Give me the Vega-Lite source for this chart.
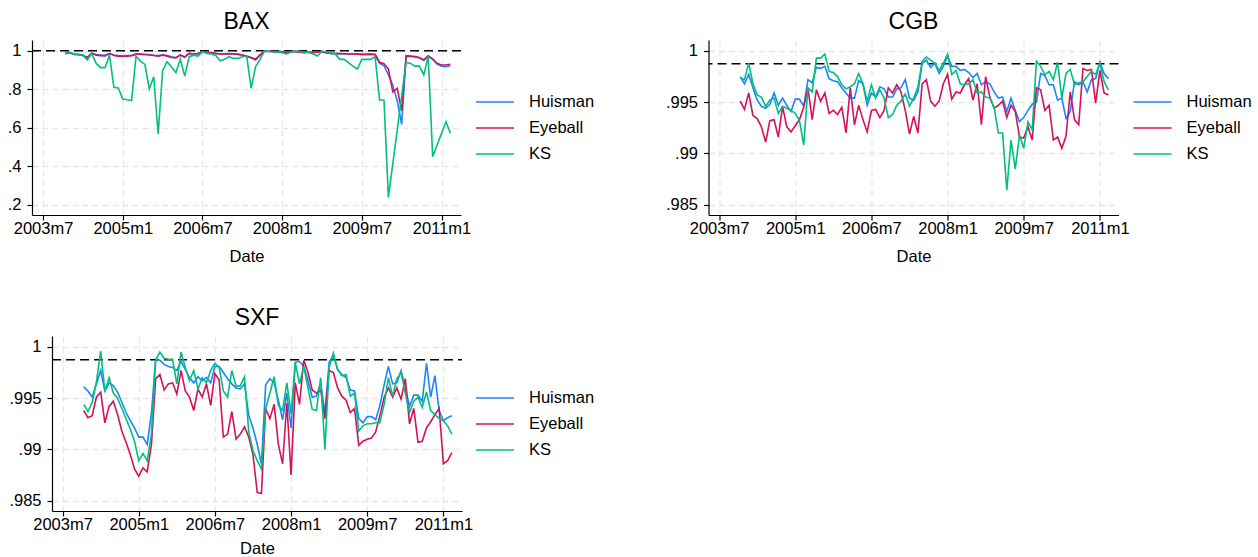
{
"$schema":"https://vega.github.io/schema/vega-lite/v6.json",
"background":"white",
"padding":{"left":7,"top":11,"right":0,"bottom":0},
"config":{
 "view":{"stroke":null},
 "font":"Liberation Sans",
 "title":{"font":"Liberation Sans","fontSize":23,"fontWeight":"normal","color":"#000","offset":6,"baseline":"alphabetic","anchor":"middle"},
 "axis":{"domainColor":"#000","domainWidth":1.2,"tickColor":"#000","tickSize":5,"tickWidth":1.2,"labelFont":"Liberation Sans","labelFontSize":16.5,"labelColor":"#000","titleFont":"Liberation Sans","titleFontSize":16.5,"titleFontWeight":"normal","titleColor":"#000","gridColor":"#e6e6e6","gridDash":[6,4],"gridWidth":1.3},
 "axisX":{"labelPadding":0,"titlePadding":12,"labelFlush":false,"labelOverlap":false},
 "axisY":{"labelPadding":6},
 "legend":{"title":null,"orient":"none","symbolType":"stroke","symbolSize":1444,"symbolStrokeWidth":1.6,"labelFont":"Liberation Sans","labelFontSize":16.5,"labelColor":"#000","labelOffset":14,"rowPadding":2,"clipHeight":24,"padding":0}
},
"datasets":{
"bax":[
{"t":527,"s":"Huisman","v":0.985},{"t":528,"s":"Huisman","v":0.990},{"t":529,"s":"Huisman","v":0.982},{"t":530,"s":"Huisman","v":0.981},{"t":531,"s":"Huisman","v":0.978},{"t":532,"s":"Huisman","v":0.962},{"t":533,"s":"Huisman","v":0.986},{"t":534,"s":"Huisman","v":0.980},{"t":535,"s":"Huisman","v":0.978},{"t":536,"s":"Huisman","v":0.976},{"t":537,"s":"Huisman","v":0.985},{"t":538,"s":"Huisman","v":0.978},{"t":539,"s":"Huisman","v":0.975},{"t":540,"s":"Huisman","v":0.973},{"t":541,"s":"Huisman","v":0.975},{"t":542,"s":"Huisman","v":0.975},{"t":543,"s":"Huisman","v":0.982},{"t":544,"s":"Huisman","v":0.982},{"t":545,"s":"Huisman","v":0.980},{"t":546,"s":"Huisman","v":0.980},{"t":547,"s":"Huisman","v":0.976},{"t":548,"s":"Huisman","v":0.975},{"t":549,"s":"Huisman","v":0.978},{"t":550,"s":"Huisman","v":0.975},{"t":551,"s":"Huisman","v":0.968},{"t":552,"s":"Huisman","v":0.965},{"t":553,"s":"Huisman","v":0.976},{"t":554,"s":"Huisman","v":0.968},{"t":555,"s":"Huisman","v":0.985},{"t":556,"s":"Huisman","v":0.983},{"t":557,"s":"Huisman","v":0.985},{"t":558,"s":"Huisman","v":0.995},{"t":559,"s":"Huisman","v":0.992},{"t":560,"s":"Huisman","v":0.990},{"t":561,"s":"Huisman","v":0.987},{"t":562,"s":"Huisman","v":0.984},{"t":563,"s":"Huisman","v":0.984},{"t":564,"s":"Huisman","v":0.985},{"t":565,"s":"Huisman","v":0.984},{"t":566,"s":"Huisman","v":0.982},{"t":567,"s":"Huisman","v":0.978},{"t":568,"s":"Huisman","v":0.970},{"t":569,"s":"Huisman","v":0.962},{"t":570,"s":"Huisman","v":0.952},{"t":571,"s":"Huisman","v":0.975},{"t":572,"s":"Huisman","v":0.998},{"t":573,"s":"Huisman","v":0.997},{"t":574,"s":"Huisman","v":0.996},{"t":575,"s":"Huisman","v":0.995},{"t":576,"s":"Huisman","v":0.995},{"t":577,"s":"Huisman","v":0.992},{"t":578,"s":"Huisman","v":0.996},{"t":579,"s":"Huisman","v":0.995},{"t":580,"s":"Huisman","v":0.993},{"t":581,"s":"Huisman","v":0.990},{"t":582,"s":"Huisman","v":0.993},{"t":583,"s":"Huisman","v":0.991},{"t":584,"s":"Huisman","v":0.995},{"t":585,"s":"Huisman","v":0.993},{"t":586,"s":"Huisman","v":0.990},{"t":587,"s":"Huisman","v":0.986},{"t":588,"s":"Huisman","v":0.985},{"t":589,"s":"Huisman","v":0.985},{"t":590,"s":"Huisman","v":0.984},{"t":591,"s":"Huisman","v":0.983},{"t":592,"s":"Huisman","v":0.983},{"t":593,"s":"Huisman","v":0.982},{"t":594,"s":"Huisman","v":0.981},{"t":595,"s":"Huisman","v":0.981},{"t":596,"s":"Huisman","v":0.982},{"t":597,"s":"Huisman","v":0.980},{"t":598,"s":"Huisman","v":0.935},{"t":599,"s":"Huisman","v":0.922},{"t":600,"s":"Huisman","v":0.875},{"t":601,"s":"Huisman","v":0.820},{"t":602,"s":"Huisman","v":0.740},{"t":603,"s":"Huisman","v":0.617},{"t":604,"s":"Huisman","v":0.972},{"t":605,"s":"Huisman","v":0.970},{"t":606,"s":"Huisman","v":0.968},{"t":607,"s":"Huisman","v":0.962},{"t":608,"s":"Huisman","v":0.950},{"t":609,"s":"Huisman","v":0.972},{"t":610,"s":"Huisman","v":0.955},{"t":611,"s":"Huisman","v":0.930},{"t":612,"s":"Huisman","v":0.920},{"t":613,"s":"Huisman","v":0.917},{"t":614,"s":"Huisman","v":0.922},
{"t":527,"s":"Eyeball","v":0.985},{"t":528,"s":"Eyeball","v":0.990},{"t":529,"s":"Eyeball","v":0.980},{"t":530,"s":"Eyeball","v":0.979},{"t":531,"s":"Eyeball","v":0.975},{"t":532,"s":"Eyeball","v":0.965},{"t":533,"s":"Eyeball","v":0.988},{"t":534,"s":"Eyeball","v":0.977},{"t":535,"s":"Eyeball","v":0.974},{"t":536,"s":"Eyeball","v":0.973},{"t":537,"s":"Eyeball","v":0.986},{"t":538,"s":"Eyeball","v":0.975},{"t":539,"s":"Eyeball","v":0.972},{"t":540,"s":"Eyeball","v":0.970},{"t":541,"s":"Eyeball","v":0.972},{"t":542,"s":"Eyeball","v":0.974},{"t":543,"s":"Eyeball","v":0.983},{"t":544,"s":"Eyeball","v":0.982},{"t":545,"s":"Eyeball","v":0.980},{"t":546,"s":"Eyeball","v":0.978},{"t":547,"s":"Eyeball","v":0.975},{"t":548,"s":"Eyeball","v":0.972},{"t":549,"s":"Eyeball","v":0.977},{"t":550,"s":"Eyeball","v":0.973},{"t":551,"s":"Eyeball","v":0.965},{"t":552,"s":"Eyeball","v":0.962},{"t":553,"s":"Eyeball","v":0.978},{"t":554,"s":"Eyeball","v":0.966},{"t":555,"s":"Eyeball","v":0.987},{"t":556,"s":"Eyeball","v":0.983},{"t":557,"s":"Eyeball","v":0.985},{"t":558,"s":"Eyeball","v":0.995},{"t":559,"s":"Eyeball","v":0.990},{"t":560,"s":"Eyeball","v":0.990},{"t":561,"s":"Eyeball","v":0.985},{"t":562,"s":"Eyeball","v":0.983},{"t":563,"s":"Eyeball","v":0.983},{"t":564,"s":"Eyeball","v":0.984},{"t":565,"s":"Eyeball","v":0.983},{"t":566,"s":"Eyeball","v":0.981},{"t":567,"s":"Eyeball","v":0.978},{"t":568,"s":"Eyeball","v":0.972},{"t":569,"s":"Eyeball","v":0.965},{"t":570,"s":"Eyeball","v":0.956},{"t":571,"s":"Eyeball","v":0.978},{"t":572,"s":"Eyeball","v":0.998},{"t":573,"s":"Eyeball","v":0.996},{"t":574,"s":"Eyeball","v":0.995},{"t":575,"s":"Eyeball","v":0.995},{"t":576,"s":"Eyeball","v":0.994},{"t":577,"s":"Eyeball","v":0.991},{"t":578,"s":"Eyeball","v":0.996},{"t":579,"s":"Eyeball","v":0.995},{"t":580,"s":"Eyeball","v":0.993},{"t":581,"s":"Eyeball","v":0.990},{"t":582,"s":"Eyeball","v":0.993},{"t":583,"s":"Eyeball","v":0.990},{"t":584,"s":"Eyeball","v":0.994},{"t":585,"s":"Eyeball","v":0.993},{"t":586,"s":"Eyeball","v":0.990},{"t":587,"s":"Eyeball","v":0.986},{"t":588,"s":"Eyeball","v":0.985},{"t":589,"s":"Eyeball","v":0.985},{"t":590,"s":"Eyeball","v":0.984},{"t":591,"s":"Eyeball","v":0.983},{"t":592,"s":"Eyeball","v":0.983},{"t":593,"s":"Eyeball","v":0.982},{"t":594,"s":"Eyeball","v":0.981},{"t":595,"s":"Eyeball","v":0.981},{"t":596,"s":"Eyeball","v":0.982},{"t":597,"s":"Eyeball","v":0.980},{"t":598,"s":"Eyeball","v":0.940},{"t":599,"s":"Eyeball","v":0.932},{"t":600,"s":"Eyeball","v":0.905},{"t":601,"s":"Eyeball","v":0.785},{"t":602,"s":"Eyeball","v":0.805},{"t":603,"s":"Eyeball","v":0.688},{"t":604,"s":"Eyeball","v":0.974},{"t":605,"s":"Eyeball","v":0.972},{"t":606,"s":"Eyeball","v":0.970},{"t":607,"s":"Eyeball","v":0.965},{"t":608,"s":"Eyeball","v":0.952},{"t":609,"s":"Eyeball","v":0.974},{"t":610,"s":"Eyeball","v":0.958},{"t":611,"s":"Eyeball","v":0.935},{"t":612,"s":"Eyeball","v":0.926},{"t":613,"s":"Eyeball","v":0.926},{"t":614,"s":"Eyeball","v":0.929},
{"t":527,"s":"KS","v":0.983},{"t":528,"s":"KS","v":0.993},{"t":529,"s":"KS","v":0.983},{"t":530,"s":"KS","v":0.981},{"t":531,"s":"KS","v":0.976},{"t":532,"s":"KS","v":0.952},{"t":533,"s":"KS","v":0.986},{"t":534,"s":"KS","v":0.934},{"t":535,"s":"KS","v":0.912},{"t":536,"s":"KS","v":0.912},{"t":537,"s":"KS","v":0.977},{"t":538,"s":"KS","v":0.810},{"t":539,"s":"KS","v":0.806},{"t":540,"s":"KS","v":0.749},{"t":541,"s":"KS","v":0.745},{"t":542,"s":"KS","v":0.742},{"t":543,"s":"KS","v":0.972},{"t":544,"s":"KS","v":0.946},{"t":545,"s":"KS","v":0.929},{"t":546,"s":"KS","v":0.801},{"t":547,"s":"KS","v":0.865},{"t":548,"s":"KS","v":0.567},{"t":549,"s":"KS","v":0.896},{"t":550,"s":"KS","v":0.943},{"t":551,"s":"KS","v":0.917},{"t":552,"s":"KS","v":0.887},{"t":553,"s":"KS","v":0.955},{"t":554,"s":"KS","v":0.868},{"t":555,"s":"KS","v":0.969},{"t":556,"s":"KS","v":0.977},{"t":557,"s":"KS","v":0.972},{"t":558,"s":"KS","v":0.995},{"t":559,"s":"KS","v":0.986},{"t":560,"s":"KS","v":0.983},{"t":561,"s":"KS","v":0.975},{"t":562,"s":"KS","v":0.948},{"t":563,"s":"KS","v":0.955},{"t":564,"s":"KS","v":0.969},{"t":565,"s":"KS","v":0.960},{"t":566,"s":"KS","v":0.960},{"t":567,"s":"KS","v":0.969},{"t":568,"s":"KS","v":0.972},{"t":569,"s":"KS","v":0.804},{"t":570,"s":"KS","v":0.917},{"t":571,"s":"KS","v":0.955},{"t":572,"s":"KS","v":0.998},{"t":573,"s":"KS","v":0.997},{"t":574,"s":"KS","v":0.993},{"t":575,"s":"KS","v":0.993},{"t":576,"s":"KS","v":0.990},{"t":577,"s":"KS","v":0.983},{"t":578,"s":"KS","v":0.993},{"t":579,"s":"KS","v":0.998},{"t":580,"s":"KS","v":0.997},{"t":581,"s":"KS","v":0.993},{"t":582,"s":"KS","v":0.990},{"t":583,"s":"KS","v":0.983},{"t":584,"s":"KS","v":0.972},{"t":585,"s":"KS","v":0.998},{"t":586,"s":"KS","v":0.993},{"t":587,"s":"KS","v":0.990},{"t":588,"s":"KS","v":0.983},{"t":589,"s":"KS","v":0.955},{"t":590,"s":"KS","v":0.955},{"t":591,"s":"KS","v":0.938},{"t":592,"s":"KS","v":0.920},{"t":593,"s":"KS","v":0.905},{"t":594,"s":"KS","v":0.955},{"t":595,"s":"KS","v":0.955},{"t":596,"s":"KS","v":0.955},{"t":597,"s":"KS","v":0.969},{"t":598,"s":"KS","v":0.744},{"t":599,"s":"KS","v":0.744},{"t":600,"s":"KS","v":0.238},{"t":604,"s":"KS","v":0.939},{"t":605,"s":"KS","v":0.934},{"t":606,"s":"KS","v":0.920},{"t":607,"s":"KS","v":0.920},{"t":608,"s":"KS","v":0.874},{"t":609,"s":"KS","v":0.972},{"t":610,"s":"KS","v":0.449},{"t":613,"s":"KS","v":0.631},{"t":614,"s":"KS","v":0.571}
],
"cgb":[
{"t":527,"s":"Huisman","v":0.9975},{"t":528,"s":"Huisman","v":0.9968},{"t":529,"s":"Huisman","v":0.9977},{"t":530,"s":"Huisman","v":0.9964},{"t":531,"s":"Huisman","v":0.9952},{"t":532,"s":"Huisman","v":0.9946},{"t":533,"s":"Huisman","v":0.9944},{"t":534,"s":"Huisman","v":0.9948},{"t":535,"s":"Huisman","v":0.9959},{"t":536,"s":"Huisman","v":0.9947},{"t":537,"s":"Huisman","v":0.9954},{"t":538,"s":"Huisman","v":0.9947},{"t":539,"s":"Huisman","v":0.9941},{"t":540,"s":"Huisman","v":0.9953},{"t":541,"s":"Huisman","v":0.9953},{"t":542,"s":"Huisman","v":0.9946},{"t":543,"s":"Huisman","v":0.9972},{"t":544,"s":"Huisman","v":0.9969},{"t":545,"s":"Huisman","v":0.9984},{"t":546,"s":"Huisman","v":0.9983},{"t":547,"s":"Huisman","v":0.9985},{"t":548,"s":"Huisman","v":0.9973},{"t":549,"s":"Huisman","v":0.9971},{"t":550,"s":"Huisman","v":0.9970},{"t":551,"s":"Huisman","v":0.9964},{"t":552,"s":"Huisman","v":0.9959},{"t":553,"s":"Huisman","v":0.9954},{"t":554,"s":"Huisman","v":0.9954},{"t":555,"s":"Huisman","v":0.9971},{"t":556,"s":"Huisman","v":0.9968},{"t":557,"s":"Huisman","v":0.9947},{"t":558,"s":"Huisman","v":0.9959},{"t":559,"s":"Huisman","v":0.9955},{"t":560,"s":"Huisman","v":0.9965},{"t":561,"s":"Huisman","v":0.9963},{"t":562,"s":"Huisman","v":0.9955},{"t":563,"s":"Huisman","v":0.9955},{"t":564,"s":"Huisman","v":0.9963},{"t":565,"s":"Huisman","v":0.9964},{"t":566,"s":"Huisman","v":0.9972},{"t":567,"s":"Huisman","v":0.9954},{"t":568,"s":"Huisman","v":0.9952},{"t":569,"s":"Huisman","v":0.9960},{"t":570,"s":"Huisman","v":0.9988},{"t":571,"s":"Huisman","v":0.9991},{"t":572,"s":"Huisman","v":0.9984},{"t":573,"s":"Huisman","v":0.9988},{"t":574,"s":"Huisman","v":0.9978},{"t":575,"s":"Huisman","v":0.9985},{"t":576,"s":"Huisman","v":0.9995},{"t":577,"s":"Huisman","v":0.9985},{"t":578,"s":"Huisman","v":0.9985},{"t":579,"s":"Huisman","v":0.9981},{"t":580,"s":"Huisman","v":0.9982},{"t":581,"s":"Huisman","v":0.9979},{"t":582,"s":"Huisman","v":0.9974},{"t":583,"s":"Huisman","v":0.9978},{"t":584,"s":"Huisman","v":0.9967},{"t":585,"s":"Huisman","v":0.9970},{"t":586,"s":"Huisman","v":0.9968},{"t":587,"s":"Huisman","v":0.9960},{"t":588,"s":"Huisman","v":0.9954},{"t":589,"s":"Huisman","v":0.9955},{"t":590,"s":"Huisman","v":0.9941},{"t":591,"s":"Huisman","v":0.9954},{"t":592,"s":"Huisman","v":0.9942},{"t":593,"s":"Huisman","v":0.9931},{"t":594,"s":"Huisman","v":0.9935},{"t":595,"s":"Huisman","v":0.9942},{"t":596,"s":"Huisman","v":0.9948},{"t":597,"s":"Huisman","v":0.9950},{"t":598,"s":"Huisman","v":0.9978},{"t":599,"s":"Huisman","v":0.9976},{"t":600,"s":"Huisman","v":0.9967},{"t":601,"s":"Huisman","v":0.9967},{"t":602,"s":"Huisman","v":0.9952},{"t":603,"s":"Huisman","v":0.9954},{"t":604,"s":"Huisman","v":0.9934},{"t":605,"s":"Huisman","v":0.9941},{"t":606,"s":"Huisman","v":0.9970},{"t":607,"s":"Huisman","v":0.9967},{"t":608,"s":"Huisman","v":0.9970},{"t":609,"s":"Huisman","v":0.9960},{"t":610,"s":"Huisman","v":0.9972},{"t":611,"s":"Huisman","v":0.9973},{"t":612,"s":"Huisman","v":0.9989},{"t":613,"s":"Huisman","v":0.9978},{"t":614,"s":"Huisman","v":0.9973},
{"t":527,"s":"Eyeball","v":0.9951},{"t":528,"s":"Eyeball","v":0.9943},{"t":529,"s":"Eyeball","v":0.9959},{"t":530,"s":"Eyeball","v":0.9937},{"t":531,"s":"Eyeball","v":0.9934},{"t":532,"s":"Eyeball","v":0.9926},{"t":533,"s":"Eyeball","v":0.9911},{"t":534,"s":"Eyeball","v":0.9932},{"t":535,"s":"Eyeball","v":0.9933},{"t":536,"s":"Eyeball","v":0.9916},{"t":537,"s":"Eyeball","v":0.9946},{"t":538,"s":"Eyeball","v":0.9926},{"t":539,"s":"Eyeball","v":0.9921},{"t":540,"s":"Eyeball","v":0.9927},{"t":541,"s":"Eyeball","v":0.9933},{"t":542,"s":"Eyeball","v":0.9945},{"t":543,"s":"Eyeball","v":0.9964},{"t":544,"s":"Eyeball","v":0.9933},{"t":545,"s":"Eyeball","v":0.9962},{"t":546,"s":"Eyeball","v":0.9951},{"t":547,"s":"Eyeball","v":0.9959},{"t":548,"s":"Eyeball","v":0.9939},{"t":549,"s":"Eyeball","v":0.9942},{"t":550,"s":"Eyeball","v":0.9938},{"t":551,"s":"Eyeball","v":0.9945},{"t":552,"s":"Eyeball","v":0.9920},{"t":553,"s":"Eyeball","v":0.9964},{"t":554,"s":"Eyeball","v":0.9928},{"t":555,"s":"Eyeball","v":0.9947},{"t":556,"s":"Eyeball","v":0.9933},{"t":557,"s":"Eyeball","v":0.9921},{"t":558,"s":"Eyeball","v":0.9942},{"t":559,"s":"Eyeball","v":0.9943},{"t":560,"s":"Eyeball","v":0.9935},{"t":561,"s":"Eyeball","v":0.9942},{"t":562,"s":"Eyeball","v":0.9964},{"t":563,"s":"Eyeball","v":0.9959},{"t":564,"s":"Eyeball","v":0.9967},{"t":565,"s":"Eyeball","v":0.9960},{"t":566,"s":"Eyeball","v":0.9942},{"t":567,"s":"Eyeball","v":0.9919},{"t":568,"s":"Eyeball","v":0.9936},{"t":569,"s":"Eyeball","v":0.9920},{"t":570,"s":"Eyeball","v":0.9968},{"t":571,"s":"Eyeball","v":0.9972},{"t":572,"s":"Eyeball","v":0.9951},{"t":573,"s":"Eyeball","v":0.9946},{"t":574,"s":"Eyeball","v":0.9951},{"t":575,"s":"Eyeball","v":0.9968},{"t":576,"s":"Eyeball","v":0.9977},{"t":577,"s":"Eyeball","v":0.9953},{"t":578,"s":"Eyeball","v":0.9960},{"t":579,"s":"Eyeball","v":0.9959},{"t":580,"s":"Eyeball","v":0.9967},{"t":581,"s":"Eyeball","v":0.9973},{"t":582,"s":"Eyeball","v":0.9952},{"t":583,"s":"Eyeball","v":0.9968},{"t":584,"s":"Eyeball","v":0.9928},{"t":585,"s":"Eyeball","v":0.9975},{"t":586,"s":"Eyeball","v":0.9955},{"t":587,"s":"Eyeball","v":0.9944},{"t":588,"s":"Eyeball","v":0.9947},{"t":589,"s":"Eyeball","v":0.9951},{"t":590,"s":"Eyeball","v":0.9935},{"t":591,"s":"Eyeball","v":0.9947},{"t":592,"s":"Eyeball","v":0.9941},{"t":593,"s":"Eyeball","v":0.9916},{"t":594,"s":"Eyeball","v":0.9915},{"t":595,"s":"Eyeball","v":0.9926},{"t":596,"s":"Eyeball","v":0.9913},{"t":597,"s":"Eyeball","v":0.9964},{"t":598,"s":"Eyeball","v":0.9962},{"t":599,"s":"Eyeball","v":0.9942},{"t":600,"s":"Eyeball","v":0.9947},{"t":601,"s":"Eyeball","v":0.9913},{"t":602,"s":"Eyeball","v":0.9916},{"t":603,"s":"Eyeball","v":0.9905},{"t":604,"s":"Eyeball","v":0.9917},{"t":605,"s":"Eyeball","v":0.9960},{"t":606,"s":"Eyeball","v":0.9933},{"t":607,"s":"Eyeball","v":0.9928},{"t":608,"s":"Eyeball","v":0.9983},{"t":609,"s":"Eyeball","v":0.9981},{"t":610,"s":"Eyeball","v":0.9982},{"t":611,"s":"Eyeball","v":0.9949},{"t":612,"s":"Eyeball","v":0.9981},{"t":613,"s":"Eyeball","v":0.9959},{"t":614,"s":"Eyeball","v":0.9957},
{"t":527,"s":"KS","v":0.9974},{"t":528,"s":"KS","v":0.9972},{"t":529,"s":"KS","v":0.9988},{"t":530,"s":"KS","v":0.9968},{"t":531,"s":"KS","v":0.9957},{"t":532,"s":"KS","v":0.9955},{"t":533,"s":"KS","v":0.9946},{"t":534,"s":"KS","v":0.9952},{"t":535,"s":"KS","v":0.9954},{"t":536,"s":"KS","v":0.9939},{"t":537,"s":"KS","v":0.9946},{"t":538,"s":"KS","v":0.9944},{"t":539,"s":"KS","v":0.9942},{"t":540,"s":"KS","v":0.9939},{"t":541,"s":"KS","v":0.9932},{"t":542,"s":"KS","v":0.9908},{"t":543,"s":"KS","v":0.9964},{"t":544,"s":"KS","v":0.9960},{"t":545,"s":"KS","v":0.9993},{"t":546,"s":"KS","v":0.9993},{"t":547,"s":"KS","v":0.9997},{"t":548,"s":"KS","v":0.9980},{"t":549,"s":"KS","v":0.9979},{"t":550,"s":"KS","v":0.9975},{"t":551,"s":"KS","v":0.9967},{"t":552,"s":"KS","v":0.9963},{"t":553,"s":"KS","v":0.9965},{"t":554,"s":"KS","v":0.9968},{"t":555,"s":"KS","v":0.9978},{"t":556,"s":"KS","v":0.9968},{"t":557,"s":"KS","v":0.9951},{"t":558,"s":"KS","v":0.9967},{"t":559,"s":"KS","v":0.9954},{"t":560,"s":"KS","v":0.9962},{"t":561,"s":"KS","v":0.9954},{"t":562,"s":"KS","v":0.9935},{"t":563,"s":"KS","v":0.9938},{"t":564,"s":"KS","v":0.9947},{"t":565,"s":"KS","v":0.9951},{"t":566,"s":"KS","v":0.9958},{"t":567,"s":"KS","v":0.9946},{"t":568,"s":"KS","v":0.9954},{"t":569,"s":"KS","v":0.9965},{"t":570,"s":"KS","v":0.9990},{"t":571,"s":"KS","v":0.9994},{"t":572,"s":"KS","v":0.9991},{"t":573,"s":"KS","v":0.9988},{"t":574,"s":"KS","v":0.9981},{"t":575,"s":"KS","v":0.9988},{"t":576,"s":"KS","v":0.9997},{"t":577,"s":"KS","v":0.9977},{"t":578,"s":"KS","v":0.9981},{"t":579,"s":"KS","v":0.9968},{"t":580,"s":"KS","v":0.9967},{"t":581,"s":"KS","v":0.9968},{"t":582,"s":"KS","v":0.9972},{"t":583,"s":"KS","v":0.9959},{"t":584,"s":"KS","v":0.9960},{"t":585,"s":"KS","v":0.9955},{"t":586,"s":"KS","v":0.9954},{"t":587,"s":"KS","v":0.9945},{"t":588,"s":"KS","v":0.9920},{"t":589,"s":"KS","v":0.9920},{"t":590,"s":"KS","v":0.9864},{"t":591,"s":"KS","v":0.9913},{"t":592,"s":"KS","v":0.9885},{"t":593,"s":"KS","v":0.9918},{"t":594,"s":"KS","v":0.9905},{"t":595,"s":"KS","v":0.9931},{"t":596,"s":"KS","v":0.9923},{"t":597,"s":"KS","v":0.9990},{"t":598,"s":"KS","v":0.9985},{"t":599,"s":"KS","v":0.9977},{"t":600,"s":"KS","v":0.9980},{"t":601,"s":"KS","v":0.9972},{"t":602,"s":"KS","v":0.9989},{"t":603,"s":"KS","v":0.9954},{"t":604,"s":"KS","v":0.9978},{"t":605,"s":"KS","v":0.9982},{"t":606,"s":"KS","v":0.9967},{"t":607,"s":"KS","v":0.9969},{"t":608,"s":"KS","v":0.9970},{"t":609,"s":"KS","v":0.9975},{"t":610,"s":"KS","v":0.9980},{"t":611,"s":"KS","v":0.9977},{"t":612,"s":"KS","v":0.9988},{"t":613,"s":"KS","v":0.9970},{"t":614,"s":"KS","v":0.9962}
],
"sxf":[
{"t":527,"s":"Huisman","v":0.9961},{"t":528,"s":"Huisman","v":0.9957},{"t":529,"s":"Huisman","v":0.9951},{"t":530,"s":"Huisman","v":0.9964},{"t":531,"s":"Huisman","v":0.9977},{"t":532,"s":"Huisman","v":0.9957},{"t":533,"s":"Huisman","v":0.9965},{"t":534,"s":"Huisman","v":0.9962},{"t":535,"s":"Huisman","v":0.9956},{"t":536,"s":"Huisman","v":0.9946},{"t":537,"s":"Huisman","v":0.9936},{"t":538,"s":"Huisman","v":0.9928},{"t":539,"s":"Huisman","v":0.9921},{"t":540,"s":"Huisman","v":0.9912},{"t":541,"s":"Huisman","v":0.9912},{"t":542,"s":"Huisman","v":0.9905},{"t":543,"s":"Huisman","v":0.9935},{"t":544,"s":"Huisman","v":0.9988},{"t":545,"s":"Huisman","v":0.9987},{"t":546,"s":"Huisman","v":0.9983},{"t":547,"s":"Huisman","v":0.9981},{"t":548,"s":"Huisman","v":0.9980},{"t":549,"s":"Huisman","v":0.9977},{"t":550,"s":"Huisman","v":0.9986},{"t":551,"s":"Huisman","v":0.9978},{"t":552,"s":"Huisman","v":0.9970},{"t":553,"s":"Huisman","v":0.9965},{"t":554,"s":"Huisman","v":0.9971},{"t":555,"s":"Huisman","v":0.9967},{"t":556,"s":"Huisman","v":0.9970},{"t":557,"s":"Huisman","v":0.9965},{"t":558,"s":"Huisman","v":0.9981},{"t":559,"s":"Huisman","v":0.9981},{"t":560,"s":"Huisman","v":0.9975},{"t":561,"s":"Huisman","v":0.9969},{"t":562,"s":"Huisman","v":0.9964},{"t":563,"s":"Huisman","v":0.9960},{"t":564,"s":"Huisman","v":0.9959},{"t":565,"s":"Huisman","v":0.9964},{"t":566,"s":"Huisman","v":0.9933},{"t":567,"s":"Huisman","v":0.9921},{"t":568,"s":"Huisman","v":0.9905},{"t":569,"s":"Huisman","v":0.9886},{"t":570,"s":"Huisman","v":0.9963},{"t":571,"s":"Huisman","v":0.9969},{"t":572,"s":"Huisman","v":0.9965},{"t":573,"s":"Huisman","v":0.9948},{"t":574,"s":"Huisman","v":0.9929},{"t":575,"s":"Huisman","v":0.9955},{"t":576,"s":"Huisman","v":0.9921},{"t":577,"s":"Huisman","v":0.9985},{"t":578,"s":"Huisman","v":0.9986},{"t":579,"s":"Huisman","v":0.9981},{"t":580,"s":"Huisman","v":0.9967},{"t":581,"s":"Huisman","v":0.9951},{"t":582,"s":"Huisman","v":0.9952},{"t":583,"s":"Huisman","v":0.9965},{"t":584,"s":"Huisman","v":0.9935},{"t":585,"s":"Huisman","v":0.9985},{"t":586,"s":"Huisman","v":0.9992},{"t":587,"s":"Huisman","v":0.9978},{"t":588,"s":"Huisman","v":0.9973},{"t":589,"s":"Huisman","v":0.9970},{"t":590,"s":"Huisman","v":0.9958},{"t":591,"s":"Huisman","v":0.9957},{"t":592,"s":"Huisman","v":0.9930},{"t":593,"s":"Huisman","v":0.9926},{"t":594,"s":"Huisman","v":0.9932},{"t":595,"s":"Huisman","v":0.9932},{"t":596,"s":"Huisman","v":0.9929},{"t":597,"s":"Huisman","v":0.9943},{"t":598,"s":"Huisman","v":0.9963},{"t":599,"s":"Huisman","v":0.9981},{"t":600,"s":"Huisman","v":0.9964},{"t":601,"s":"Huisman","v":0.9965},{"t":602,"s":"Huisman","v":0.9977},{"t":603,"s":"Huisman","v":0.9960},{"t":604,"s":"Huisman","v":0.9942},{"t":605,"s":"Huisman","v":0.9953},{"t":606,"s":"Huisman","v":0.9953},{"t":607,"s":"Huisman","v":0.9947},{"t":608,"s":"Huisman","v":0.9984},{"t":609,"s":"Huisman","v":0.9951},{"t":610,"s":"Huisman","v":0.9972},{"t":611,"s":"Huisman","v":0.9938},{"t":612,"s":"Huisman","v":0.9928},{"t":613,"s":"Huisman","v":0.9931},{"t":614,"s":"Huisman","v":0.9933},
{"t":527,"s":"Eyeball","v":0.9938},{"t":528,"s":"Eyeball","v":0.9931},{"t":529,"s":"Eyeball","v":0.9933},{"t":530,"s":"Eyeball","v":0.9951},{"t":531,"s":"Eyeball","v":0.9956},{"t":532,"s":"Eyeball","v":0.9926},{"t":533,"s":"Eyeball","v":0.9942},{"t":534,"s":"Eyeball","v":0.9947},{"t":535,"s":"Eyeball","v":0.9934},{"t":536,"s":"Eyeball","v":0.9918},{"t":537,"s":"Eyeball","v":0.9907},{"t":538,"s":"Eyeball","v":0.9895},{"t":539,"s":"Eyeball","v":0.9881},{"t":540,"s":"Eyeball","v":0.9874},{"t":541,"s":"Eyeball","v":0.9882},{"t":542,"s":"Eyeball","v":0.9878},{"t":543,"s":"Eyeball","v":0.9905},{"t":544,"s":"Eyeball","v":0.9969},{"t":545,"s":"Eyeball","v":0.9973},{"t":546,"s":"Eyeball","v":0.9958},{"t":547,"s":"Eyeball","v":0.9964},{"t":548,"s":"Eyeball","v":0.9965},{"t":549,"s":"Eyeball","v":0.9954},{"t":550,"s":"Eyeball","v":0.9977},{"t":551,"s":"Eyeball","v":0.9957},{"t":552,"s":"Eyeball","v":0.9951},{"t":553,"s":"Eyeball","v":0.9938},{"t":554,"s":"Eyeball","v":0.9959},{"t":555,"s":"Eyeball","v":0.9951},{"t":556,"s":"Eyeball","v":0.9964},{"t":557,"s":"Eyeball","v":0.9943},{"t":558,"s":"Eyeball","v":0.9974},{"t":559,"s":"Eyeball","v":0.9968},{"t":560,"s":"Eyeball","v":0.9912},{"t":561,"s":"Eyeball","v":0.9915},{"t":562,"s":"Eyeball","v":0.9937},{"t":563,"s":"Eyeball","v":0.9910},{"t":564,"s":"Eyeball","v":0.9915},{"t":565,"s":"Eyeball","v":0.9922},{"t":566,"s":"Eyeball","v":0.9912},{"t":567,"s":"Eyeball","v":0.9895},{"t":568,"s":"Eyeball","v":0.9858},{"t":569,"s":"Eyeball","v":0.9857},{"t":570,"s":"Eyeball","v":0.9940},{"t":571,"s":"Eyeball","v":0.9930},{"t":572,"s":"Eyeball","v":0.9944},{"t":573,"s":"Eyeball","v":0.9905},{"t":574,"s":"Eyeball","v":0.9886},{"t":575,"s":"Eyeball","v":0.9945},{"t":576,"s":"Eyeball","v":0.9875},{"t":577,"s":"Eyeball","v":0.9965},{"t":578,"s":"Eyeball","v":0.9944},{"t":579,"s":"Eyeball","v":0.9987},{"t":580,"s":"Eyeball","v":0.9975},{"t":581,"s":"Eyeball","v":0.9958},{"t":582,"s":"Eyeball","v":0.9955},{"t":583,"s":"Eyeball","v":0.9958},{"t":584,"s":"Eyeball","v":0.9930},{"t":585,"s":"Eyeball","v":0.9977},{"t":586,"s":"Eyeball","v":0.9975},{"t":587,"s":"Eyeball","v":0.9960},{"t":588,"s":"Eyeball","v":0.9952},{"t":589,"s":"Eyeball","v":0.9948},{"t":590,"s":"Eyeball","v":0.9936},{"t":591,"s":"Eyeball","v":0.9940},{"t":592,"s":"Eyeball","v":0.9904},{"t":593,"s":"Eyeball","v":0.9908},{"t":594,"s":"Eyeball","v":0.9910},{"t":595,"s":"Eyeball","v":0.9911},{"t":596,"s":"Eyeball","v":0.9917},{"t":597,"s":"Eyeball","v":0.9933},{"t":598,"s":"Eyeball","v":0.9951},{"t":599,"s":"Eyeball","v":0.9960},{"t":600,"s":"Eyeball","v":0.9951},{"t":601,"s":"Eyeball","v":0.9960},{"t":602,"s":"Eyeball","v":0.9949},{"t":603,"s":"Eyeball","v":0.9969},{"t":604,"s":"Eyeball","v":0.9925},{"t":605,"s":"Eyeball","v":0.9940},{"t":606,"s":"Eyeball","v":0.9907},{"t":607,"s":"Eyeball","v":0.9908},{"t":608,"s":"Eyeball","v":0.9921},{"t":609,"s":"Eyeball","v":0.9927},{"t":610,"s":"Eyeball","v":0.9934},{"t":611,"s":"Eyeball","v":0.9940},{"t":612,"s":"Eyeball","v":0.9886},{"t":613,"s":"Eyeball","v":0.9889},{"t":614,"s":"Eyeball","v":0.9897},
{"t":527,"s":"KS","v":0.9944},{"t":528,"s":"KS","v":0.9937},{"t":529,"s":"KS","v":0.9946},{"t":530,"s":"KS","v":0.9966},{"t":531,"s":"KS","v":0.9996},{"t":532,"s":"KS","v":0.9957},{"t":533,"s":"KS","v":0.9970},{"t":534,"s":"KS","v":0.9955},{"t":535,"s":"KS","v":0.9950},{"t":536,"s":"KS","v":0.9940},{"t":537,"s":"KS","v":0.9930},{"t":538,"s":"KS","v":0.9920},{"t":539,"s":"KS","v":0.9908},{"t":540,"s":"KS","v":0.9889},{"t":541,"s":"KS","v":0.9896},{"t":542,"s":"KS","v":0.9889},{"t":543,"s":"KS","v":0.9915},{"t":544,"s":"KS","v":0.9987},{"t":545,"s":"KS","v":0.9995},{"t":546,"s":"KS","v":0.9989},{"t":547,"s":"KS","v":0.9988},{"t":548,"s":"KS","v":0.9988},{"t":549,"s":"KS","v":0.9964},{"t":550,"s":"KS","v":0.9995},{"t":551,"s":"KS","v":0.9980},{"t":552,"s":"KS","v":0.9967},{"t":553,"s":"KS","v":0.9977},{"t":554,"s":"KS","v":0.9959},{"t":555,"s":"KS","v":0.9970},{"t":556,"s":"KS","v":0.9965},{"t":557,"s":"KS","v":0.9977},{"t":558,"s":"KS","v":0.9984},{"t":559,"s":"KS","v":0.9980},{"t":560,"s":"KS","v":0.9957},{"t":561,"s":"KS","v":0.9951},{"t":562,"s":"KS","v":0.9977},{"t":563,"s":"KS","v":0.9962},{"t":564,"s":"KS","v":0.9962},{"t":565,"s":"KS","v":0.9971},{"t":566,"s":"KS","v":0.9917},{"t":567,"s":"KS","v":0.9899},{"t":568,"s":"KS","v":0.9889},{"t":569,"s":"KS","v":0.9881},{"t":570,"s":"KS","v":0.9940},{"t":571,"s":"KS","v":0.9955},{"t":572,"s":"KS","v":0.9971},{"t":573,"s":"KS","v":0.9943},{"t":574,"s":"KS","v":0.9938},{"t":575,"s":"KS","v":0.9965},{"t":576,"s":"KS","v":0.9935},{"t":577,"s":"KS","v":0.9985},{"t":578,"s":"KS","v":0.9964},{"t":579,"s":"KS","v":0.9981},{"t":580,"s":"KS","v":0.9960},{"t":581,"s":"KS","v":0.9939},{"t":582,"s":"KS","v":0.9938},{"t":583,"s":"KS","v":0.9970},{"t":584,"s":"KS","v":0.9900},{"t":585,"s":"KS","v":0.9980},{"t":586,"s":"KS","v":0.9994},{"t":587,"s":"KS","v":0.9978},{"t":588,"s":"KS","v":0.9972},{"t":589,"s":"KS","v":0.9973},{"t":590,"s":"KS","v":0.9952},{"t":591,"s":"KS","v":0.9955},{"t":592,"s":"KS","v":0.9918},{"t":593,"s":"KS","v":0.9923},{"t":594,"s":"KS","v":0.9925},{"t":595,"s":"KS","v":0.9925},{"t":596,"s":"KS","v":0.9926},{"t":597,"s":"KS","v":0.9926},{"t":598,"s":"KS","v":0.9944},{"t":599,"s":"KS","v":0.9970},{"t":600,"s":"KS","v":0.9952},{"t":601,"s":"KS","v":0.9969},{"t":602,"s":"KS","v":0.9975},{"t":603,"s":"KS","v":0.9955},{"t":604,"s":"KS","v":0.9936},{"t":605,"s":"KS","v":0.9947},{"t":606,"s":"KS","v":0.9951},{"t":607,"s":"KS","v":0.9941},{"t":608,"s":"KS","v":0.9956},{"t":609,"s":"KS","v":0.9938},{"t":610,"s":"KS","v":0.9934},{"t":611,"s":"KS","v":0.9930},{"t":612,"s":"KS","v":0.9928},{"t":613,"s":"KS","v":0.9923},{"t":614,"s":"KS","v":0.9915}
]
},
"concat":[
 {"title":"BAX","width":429,"height":175,
  "layer":[
   {"data":{"values":[{"ref":1}]},"mark":{"type":"rule","strokeDash":[9,5],"strokeWidth":1.5,"color":"#000"},
    "encoding":{"y":{"field":"ref","type":"quantitative","scale":{"domain":[0.1465,1.0556],"nice":false,"zero":false},"title":null}}},
   {"data":{"name":"bax"},"mark":{"type":"line","strokeWidth":1.6},
    "encoding":{
     "x":{"field":"t","type":"quantitative","title":"Date","scale":{"domain":[519.5,616.4],"nice":false,"zero":false},"axis":{"values":[522,540,558,576,594,612],"labelExpr":"floor(datum.value/12)+1960+'m'+(datum.value%12+1)"}},
     "y":{"field":"v","type":"quantitative","title":null,"scale":{"domain":[0.1465,1.0556],"nice":false,"zero":false},"axis":{"values":[0.2,0.4,0.6,0.8,1],"labelExpr":"datum.value>=1?'1':substring(format(datum.value,'.1f'),1)"}},
     "color":{"field":"s","type":"nominal","scale":{"domain":["Huisman","Eyeball","KS"],"range":["#1a85ff","#d41159","#00bf7f"]},"legend":{"legendX":443,"legendY":50}}
    }}
  ]},
 {"title":"CGB","width":410,"height":175,
  "layer":[
   {"data":{"values":[{"ref":0.99876}]},"mark":{"type":"rule","strokeDash":[9,5],"strokeWidth":1.5,"color":"#000"},
    "encoding":{"y":{"field":"ref","type":"quantitative","scale":{"domain":[0.98399,1.00107],"nice":false,"zero":false},"title":null}}},
   {"data":{"name":"cgb"},"mark":{"type":"line","strokeWidth":1.6},
    "encoding":{
     "x":{"field":"t","type":"quantitative","title":"Date","scale":{"domain":[519.5,616.4],"nice":false,"zero":false},"axis":{"values":[522,540,558,576,594,612],"labelExpr":"floor(datum.value/12)+1960+'m'+(datum.value%12+1)"}},
     "y":{"field":"v","type":"quantitative","title":null,"scale":{"domain":[0.98399,1.00107],"nice":false,"zero":false},"axis":{"values":[0.985,0.99,0.995,1],"labelExpr":"datum.value>=1?'1':substring(format(datum.value,'.3~f'),1)"}},
     "color":{"field":"s","type":"nominal","scale":{"domain":["Huisman","Eyeball","KS"],"range":["#1a85ff","#d41159","#00bf7f"]},"legend":{"legendX":424,"legendY":50}}
    }}
  ]},
 {"title":{"text":"SXF","dx":10},"width":430,"height":175,
  "layer":[
   {"data":{"values":[{"ref":0.99876,"x0":519.5,"x1":616.4}]},"mark":{"type":"rule","strokeDash":[9,5],"strokeWidth":1.5,"color":"#000"},
    "encoding":{"x":{"field":"x0","type":"quantitative","scale":{"domain":[519.5,616.4],"range":[20,430],"nice":false,"zero":false}},"x2":{"field":"x1"},"y":{"field":"ref","type":"quantitative","scale":{"domain":[0.98399,1.00107],"nice":false,"zero":false},"title":null}}},
   {"data":{"name":"sxf"},"mark":{"type":"line","strokeWidth":1.6},
    "encoding":{
     "x":{"field":"t","type":"quantitative","title":"Date","scale":{"domain":[519.5,616.4],"range":[20,430],"nice":false,"zero":false},"axis":{"values":[522,540,558,576,594,612],"labelExpr":"floor(datum.value/12)+1960+'m'+(datum.value%12+1)","titlePadding":8}},
     "y":{"field":"v","type":"quantitative","title":null,"scale":{"domain":[0.98399,1.00107],"nice":false,"zero":false},"axis":{"values":[0.985,0.99,0.995,1],"labelExpr":"datum.value>=1?'1':substring(format(datum.value,'.3~f'),1)","offset":-20}},
     "color":{"field":"s","type":"nominal","scale":{"domain":["Huisman","Eyeball","KS"],"range":["#1a85ff","#d41159","#00bf7f"]},"legend":{"legendX":443,"legendY":50}}
    }}
  ]}
],
"columns":2,
"align":"none",
"spacing":{"row":42,"column":69.5},
"resolve":{"scale":{"color":"independent"},"legend":{"color":"independent"}}
}
